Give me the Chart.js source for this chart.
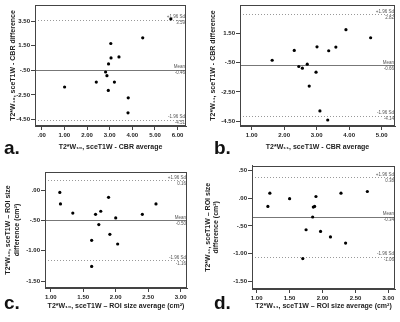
<!DOCTYPE html>
<html><head><meta charset="utf-8">
<script src="https://cdn.jsdelivr.net/npm/chart.js@4.4.0/dist/chart.umd.min.js"></script>
<style>
html,body{margin:0;padding:0;background:#fff;}
#wrap{position:relative;width:400px;height:322px;overflow:hidden;background:#fff;}
.pane{position:absolute;}
.pane canvas{display:block;}
.lbl{position:absolute;font:bold 19px "Liberation Sans",Arial,sans-serif;color:#111;line-height:1;}
</style></head><body>
<div id="wrap">
  <div class="pane" style="left:0;top:0"><canvas id="ca" width="200" height="161"></canvas></div>
  <div class="pane" style="left:200px;top:0"><canvas id="cb" width="200" height="161"></canvas></div>
  <div class="pane" style="left:0;top:161px"><canvas id="cc" width="200" height="161"></canvas></div>
  <div class="pane" style="left:200px;top:161px"><canvas id="cd" width="200" height="161"></canvas></div>
  <div class="lbl" style="left:4px;top:138px">a.</div>
  <div class="lbl" style="left:214px;top:138px">b.</div>
  <div class="lbl" style="left:4px;top:293px">c.</div>
  <div class="lbl" style="left:214px;top:293px">d.</div>
</div>
<script>
// ---------- data ----------
const aAverage    = [5.70, 4.46, 3.05, 3.41, 3.06, 2.95, 2.82, 2.88, 2.41, 3.21, 1.01, 2.94, 3.82, 3.81];
const aDifference = [3.68, 2.14, 1.68, 0.59, 0.51, 0.02, -0.64, -0.94, -1.46, -1.46, -1.86, -2.14, -2.74, -3.96];
const aLimits     = [3.59, -0.46, -4.51];
const aXTicks     = [0, 1, 2, 3, 4, 5, 6];
const aYTicks     = [3.5, 1.5, -0.5, -2.5, -4.5];

const bAverage    = [3.90, 4.66, 2.31, 3.01, 3.37, 3.59, 1.63, 2.71, 2.45, 2.56, 2.98, 2.77, 3.10, 3.34];
const bDifference = [1.76, 1.21, 0.34, 0.59, 0.32, 0.57, -0.33, -0.60, -0.76, -0.87, -1.15, -2.10, -3.80, -4.42];
const bLimits     = [2.82, -0.66, -4.14];
const bXTicks     = [1, 2, 3, 4, 5];
const bYTicks     = [1.5, -0.5, -2.5, -4.5];

const cAverage    = [1.14, 1.15, 1.34, 1.69, 1.77, 1.89, 2.00, 1.74, 1.63, 1.91, 2.03, 1.63, 2.41, 2.62];
const cDifference = [-0.04, -0.23, -0.38, -0.40, -0.35, -0.12, -0.46, -0.57, -0.83, -0.73, -0.89, -1.26, -0.40, -0.23];
const cLimits     = [0.16, -0.50, -1.16];
const cXTicks     = [1, 1.5, 2, 2.5, 3];
const cYTicks     = [0, -0.5, -1, -1.5];

const dAverage    = [1.17, 1.20, 1.50, 1.86, 1.88, 1.90, 1.85, 1.75, 1.97, 2.12, 2.35, 2.28, 2.68, 1.70];
const dDifference = [-0.15, 0.09, -0.01, -0.16, -0.15, 0.03, -0.34, -0.57, -0.60, -0.70, -0.81, 0.09, 0.12, -1.09];
const dLimits     = [0.38, -0.34, -1.06];
const dXTicks     = [1, 1.5, 2, 2.5, 3];
const dYTicks     = [0.5, 0, -0.5, -1, -1.5];

const limitNames  = ['+1.96 Sd', 'Mean', '-1.96 Sd'];

// ---------- drawing ----------
const FAM = '"Liberation Sans", Arial, sans-serif';
const INK = '#222';
function fmt(v){ const s = Math.abs(v).toFixed(2).replace(/^0\./, '.'); return (v < 0 ? '-' : '') + s; }

const refPlugin = {
  id: 'ref',
  beforeDatasetsDraw(chart, args, opts){
    const {ctx, chartArea: ca, scales: {y}} = chart;
    ctx.save();
    opts.lines.forEach((v, i) => {
      const py = Math.round(y.getPixelForValue(v)) + 0.5;
      ctx.beginPath();
      ctx.strokeStyle = i === 1 ? '#777' : '#999';
      ctx.lineWidth = 1;
      ctx.setLineDash(i === 1 ? [] : [1, 2]);
      ctx.moveTo(ca.left, py); ctx.lineTo(ca.right, py); ctx.stroke();
    });
    ctx.restore();
  },
  afterDatasetsDraw(chart, args, opts){
    const {ctx, chartArea: ca, scales: {y}} = chart;
    ctx.save();
    ctx.fillStyle = '#555';
    ctx.font = '4.5px ' + FAM;
    ctx.textAlign = 'right';
    opts.lines.forEach((v, i) => {
      const py = y.getPixelForValue(v);
      ctx.textBaseline = 'bottom';
      ctx.fillText(limitNames[i], ca.right - 1, py - 0.5);
      ctx.textBaseline = 'top';
      ctx.fillText(v.toFixed(2), ca.right - 1, py + 1);
    });
    // frame
    ctx.strokeStyle = '#444';
    ctx.lineWidth = 1;
    ctx.setLineDash([]);
    ctx.strokeRect(Math.round(ca.left) + 0.5, Math.round(ca.top) + 0.5,
                   Math.round(ca.right - ca.left) - 1, Math.round(ca.bottom - ca.top) - 1);
    ctx.restore();
  }
};

function build(id, P){
  const tickFont = {family: FAM, size: 6, weight: 'bold'};
  const titleFont = {family: FAM, size: 7, weight: 'bold'};
  new Chart(document.getElementById(id), {
    type: 'scatter',
    data: {datasets: [{
      data: P.avg.map((x, i) => ({x: x, y: P.diff[i]})),
      pointRadius: 1.6, pointHoverRadius: 1.6,
      pointBackgroundColor: '#000', pointBorderWidth: 0
    }]},
    options: {
      responsive: false, animation: false, devicePixelRatio: 1, events: [],
      layout: {padding: {left: 0, top: P.box[1], right: 200 - P.box[2], bottom: 0}},
      plugins: {legend: {display: false}, tooltip: {enabled: false}, ref: {lines: P.lines}},
      scales: {
        x: {
          type: 'linear', min: P.xr[0], max: P.xr[1],
          afterFit(s){ s.height = 161 - P.box[3]; },
          afterBuildTicks(s){ s.ticks = P.xt.map(v => ({value: v})); },
          ticks: {callback: v => fmt(v), font: tickFont, color: INK, padding: 2, maxRotation: 0, autoSkip: false},
          grid: {drawOnChartArea: false, drawTicks: true, tickLength: 4, color: '#444'},
          border: {display: true, color: '#444'},
          title: {display: true, text: P.xTitle, font: titleFont, color: INK, padding: {top: 0, bottom: P.xPad}}
        },
        y: {
          type: 'linear', min: P.yr[0], max: P.yr[1],
          afterFit(s){ s.width = P.box[0]; },
          afterBuildTicks(s){ s.ticks = P.yt.map(v => ({value: v})); },
          ticks: {callback: v => fmt(v), font: tickFont, color: INK, padding: 1, autoSkip: false},
          grid: {drawOnChartArea: false, drawTicks: true, tickLength: 4, color: '#444'},
          border: {display: true, color: '#444'},
          title: {display: true, text: P.yTitle, font: titleFont, color: INK, padding: {top: P.yPad, bottom: 0}}
        }
      }
    },
    plugins: [refPlugin]
  });
}

build('ca', {avg: aAverage, diff: aDifference, lines: aLimits, xt: aXTicks, yt: aYTicks,
  box: [35, 5, 186, 126], xr: [-0.296, 6.37], yr: [-5.03, 4.81], xPad: 9.8, yPad: 9.1,
  xTitle: 'T2*W\u2081\u2080, sceT1W - CBR average', yTitle: 'T2*W\u2081\u2080, sceT1W - CBR difference'});
build('cb', {avg: bAverage, diff: bDifference, lines: bLimits, xt: bXTicks, yt: bYTicks,
  box: [40, 5, 195, 126], xr: [0.64, 5.41], yr: [-4.83, 3.45], xPad: 9.8, yPad: 9.1,
  xTitle: 'T2*W\u2081\u2081, sceT1W - CBR average', yTitle: 'T2*W\u2081\u2081, sceT1W - CBR difference'});
build('cc', {avg: cAverage, diff: cDifference, lines: cLimits, xt: cXTicks, yt: cYTicks,
  box: [45, 11, 187, 127], xr: [0.912, 3.097], yr: [-1.615, 0.297], xPad: 12.1, yPad: 4.3,
  xTitle: 'T2*W\u2081\u2080, sceT1W \u2013 ROI size average (cm\u00b2)', yTitle: ['T2*W\u2081\u2080, sceT1W \u2013 ROI size', 'difference (cm\u00b2)']});
build('cd', {avg: dAverage, diff: dDifference, lines: dLimits, xt: dXTicks, yt: dYTicks,
  box: [52, 1, 195, 128], xr: [0.929, 3.10], yr: [-1.64, 0.588], xPad: 12.1, yPad: 3.8,
  xTitle: 'T2*W\u2081\u2081, sceT1W \u2013 ROI size average (cm\u00b2)', yTitle: ['T2*W\u2081\u2081, sceT1W \u2013 ROI size', 'difference (cm\u00b2)']});
</script>
</body></html>
